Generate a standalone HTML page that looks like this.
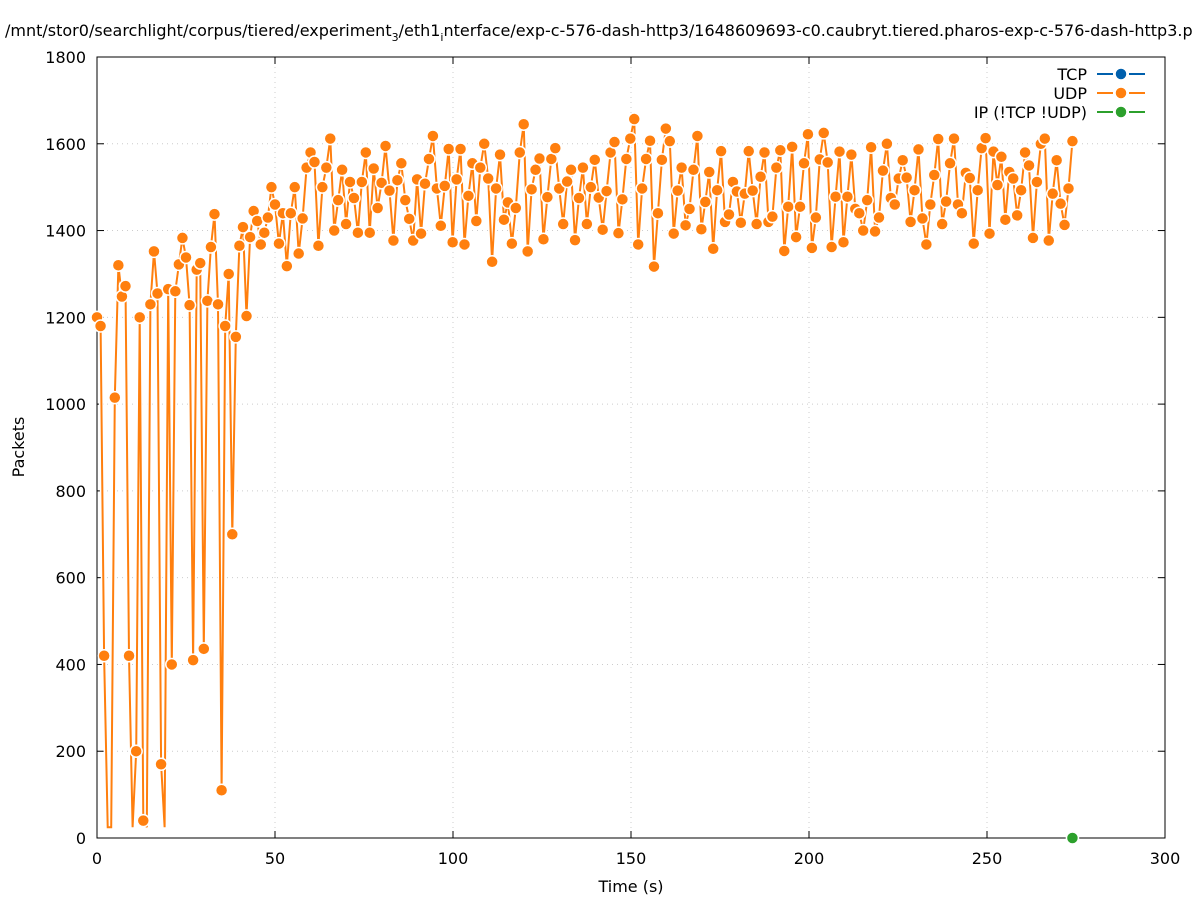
<!DOCTYPE html>
<html><head><meta charset="utf-8"><style>
body{margin:0;background:#fff;font-family:"Liberation Sans","DejaVu Sans",sans-serif}
svg text{font-family:"DejaVu Sans","Liberation Sans",sans-serif}
</style></head><body>
<svg id="chart" width="1197" height="900" xmlns="http://www.w3.org/2000/svg">
<text x="5" y="36" font-size="16">/mnt/stor0/searchlight/corpus/tiered/experiment<tspan font-size="11" dy="5">3</tspan><tspan dy="-5">/eth1</tspan><tspan font-size="11" dy="5">i</tspan><tspan dy="-5">nterface/exp-c-576-dash-http3/1648609693-c0.caubryt.tiered.pharos-exp-c-576-dash-http3.p</tspan></text>
<g id="grid"></g><g id="axes"></g><g id="series"></g><g id="legend"></g>
</svg>
<script>
const xTicks=[0,50,100,150,200,250,300];
const yTicks=[0,200,400,600,800,1000,1200,1400,1600,1800];
const udpEarly=[1200,1180,420,25,25,1015,1320,1248,1272,420,25,200,1200,40,25,1230,1352,1255,170,25,1265,400,1260,1322,1383,1338,1228,410,1310,1325,436,1238,1362,1438,1230,110,1180,1300,700,1155,1365,1408,1203,1385,1445,1422,1368,1395,1430,1500];
const udpLate=[1460,1370,1440,1318,1440,1500,1347,1428,1545,1580,1558,1365,1500,1545,1612,1400,1470,1540,1415,1512,1475,1395,1512,1580,1395,1543,1452,1510,1595,1492,1377,1516,1555,1470,1427,1377,1518,1393,1508,1565,1618,1497,1411,1503,1588,1373,1518,1588,1368,1480,1555,1422,1545,1600,1520,1328,1497,1575,1425,1465,1370,1452,1580,1645,1352,1495,1540,1566,1380,1477,1565,1590,1497,1415,1513,1540,1378,1475,1545,1415,1500,1563,1476,1402,1491,1580,1604,1394,1472,1565,1612,1657,1368,1497,1565,1607,1317,1440,1563,1635,1606,1393,1492,1545,1412,1450,1540,1618,1403,1466,1535,1358,1493,1583,1420,1437,1512,1490,1418,1485,1583,1492,1415,1524,1580,1420,1432,1545,1585,1353,1455,1593,1385,1455,1555,1622,1360,1430,1564,1625,1557,1362,1478,1582,1373,1478,1575,1450,1440,1400,1470,1592,1398,1430,1538,1600,1475,1460,1520,1562,1522,1420,1493,1587,1428,1368,1460,1528,1611,1415,1467,1555,1612,1460,1440,1533,1521,1370,1493,1590,1613,1393,1582,1505,1570,1425,1535,1520,1435,1493,1580,1550,1383,1512,1600,1612,1377,1485,1562,1462,1413,1497,1606];
const lateStart=50, lateEnd=274;
const ipTimes=[274];
const ipValues=[0];
const L=97,R=1165,T=57,B=838;
const X=t=>L+(t-0)/300*(R-L);
const Y=v=>B-v/1800*(B-T);
const NS="http://www.w3.org/2000/svg";
function mk(tag,attrs,parent,text){const e=document.createElementNS(NS,tag);for(const k in attrs)e.setAttribute(k,attrs[k]);if(text!==undefined)e.textContent=text;parent.appendChild(e);return e;}
const grid=document.getElementById('grid'),axes=document.getElementById('axes'),ser=document.getElementById('series'),leg=document.getElementById('legend');
xTicks.forEach(t=>{
 if(t>0&&t<300){const g=mk('line',{x1:X(t),x2:X(t),y1:T,y2:B,stroke:'#ccc','stroke-dasharray':'1,4'},grid);
 
 }
 mk('line',{x1:X(t),x2:X(t),y1:B,y2:B-7,stroke:'#000'},axes);
 mk('line',{x1:X(t),x2:X(t),y1:T,y2:T+7,stroke:'#000'},axes);
 const lb=mk('text',{x:X(t),y:864,'font-size':16,'text-anchor':'middle'},axes,String(t));
 
 
});
yTicks.forEach(v=>{
 if(v>0&&v<1800){const g=mk('line',{x1:L,x2:R,y1:Y(v),y2:Y(v),stroke:'#ccc','stroke-dasharray':'1,4'},grid);
 
 }
 mk('line',{x1:L,x2:L+7,y1:Y(v),y2:Y(v),stroke:'#000'},axes);
 mk('line',{x1:R,x2:R-7,y1:Y(v),y2:Y(v),stroke:'#000'},axes);
 const lb=mk('text',{x:86,y:Y(v)+6,'font-size':16,'text-anchor':'end'},axes,String(v));
 
 
});
const bx=mk('rect',{x:L,y:T,width:R-L,height:B-T,fill:'none',stroke:'#000'},axes);


const xt=mk('text',{x:631,y:892,'font-size':16,'text-anchor':'middle'},axes,'Time (s)');


const yt=mk('text',{x:0,y:0,'font-size':16,'text-anchor':'middle',transform:'translate(24,447) rotate(-90)'},axes,'Packets');


const times=[],vals=[];
udpEarly.forEach((v,i)=>{times.push(i);vals.push(v);});
const step=(lateEnd-lateStart)/(udpLate.length-1);
udpLate.forEach((v,i)=>{times.push(lateStart+i*step);vals.push(v);});
const C='#ff7f0e';
const pts=times.map((t,i)=>X(t).toFixed(1)+','+Y(vals[i]).toFixed(1)).join(' ');
const pl=mk('polyline',{points:pts,fill:'none',stroke:'#fff','stroke-width':5,'stroke-linejoin':'round'},ser);


const pl2=mk('polyline',{points:pts,fill:'none',stroke:C,'stroke-width':2},ser);


times.forEach((t,i)=>{
 if(vals[i]<30) return;
 const c=mk('circle',{cx:X(t),cy:Y(vals[i]),r:6,fill:C,stroke:'#fff','stroke-width':1.5},ser);
 
 
});
ipTimes.forEach((t,i)=>{
 const c=mk('circle',{cx:X(t),cy:Y(ipValues[i]),r:6,fill:'#2ca02c',stroke:'#fff','stroke-width':1.5},ser);
 
 
});
[['TCP','#0060ad',80],['UDP',C,99],['IP (!TCP  !UDP)','#2ca02c',118]].forEach(([n,col,y])=>{
 const t=mk('text',{x:1087,y:y,'font-size':16,'text-anchor':'end','xml:space':'preserve'},leg,n);
 
 
 const l=mk('line',{x1:1097,x2:1145,y1:y-6,y2:y-6,stroke:col,'stroke-width':2,'stroke-dasharray':'16,4,8,4,16'},leg);
 
 
 const c=mk('circle',{cx:1121,cy:y-6,r:6,fill:col,stroke:'#fff','stroke-width':1.5},leg);
 
 
});
</script>
</body></html>
